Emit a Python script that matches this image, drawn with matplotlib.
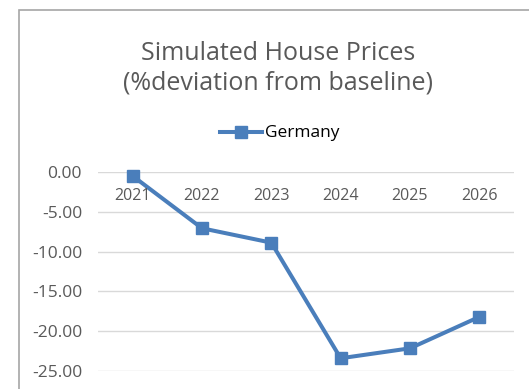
import matplotlib
matplotlib.use("Agg")
import matplotlib.pyplot as plt
from matplotlib.patches import Rectangle

years = ["2021", "2022", "2023", "2024", "2025", "2026"]
germany = [-0.5, -7.07, -8.88, -23.4, -22.15, -18.2]
yticks = [0, -5, -10, -15, -20, -25]

W, H = 529, 389
plt.rcParams["font.family"] = ["Open Sans", "DejaVu Sans"]
blue = "#4a7ebb"
grey_text = "#595959"

fig = plt.figure(figsize=(W / 100, H / 100), dpi=100)

# chart frame (runs off the right and bottom edges)
fig.patches.append(Rectangle((18.5 / W, -0.1), 1.2, 1 - 9.5 / H + 0.1,
                             transform=fig.transFigure, fill=False,
                             edgecolor="#a6a6a6", linewidth=1.2))

ax = fig.add_axes([98 / W, 1 - 371 / H, (514 - 98) / W, (371 - 172) / H])
x = range(len(years))
ax.plot(x, germany, color=blue, linewidth=2.9, marker="s",
        markersize=8.6, clip_on=False, zorder=3)
ax.set_xlim(-0.5, len(years) - 0.5)
ax.set_ylim(-25, 0)
ax.set_yticks(yticks)
ax.set_yticklabels([f"{v:.2f}" for v in yticks])
ax.yaxis.grid(True, color="#d9d9d9", linewidth=1)
ax.set_axisbelow(True)
for s in ax.spines.values():
    s.set_visible(False)
ax.tick_params(axis="y", length=0, pad=11.5, labelsize=12.5, labelcolor=grey_text)
ax.set_xticks([])

# category labels sit just under the zero line
for i, yr in enumerate(years):
    ax.text(i, -3.0, yr, ha="center", va="center", fontsize=11.5, color=grey_text)

fig.text(278 / W, 1 - 60 / H, "Simulated House Prices", ha="center",
         va="baseline", fontsize=18, color=grey_text)
fig.text(278 / W, 1 - 90 / H, "(%deviation from baseline)", ha="center",
         va="baseline", fontsize=18, color=grey_text)

# legend entry
ly = 1 - 132 / H
fig.add_artist(plt.Line2D([220 / W, 262 / W], [ly, ly], color=blue,
                          linewidth=2.9, transform=fig.transFigure))
fig.add_artist(plt.Line2D([241 / W], [ly], color=blue, marker="s",
                          markersize=8.6, transform=fig.transFigure))
fig.text(265 / W, 1 - 137 / H, "Germany", ha="left", va="baseline",
         fontsize=12.5, color="#000000")

fig.savefig("out.png", dpi=100)
